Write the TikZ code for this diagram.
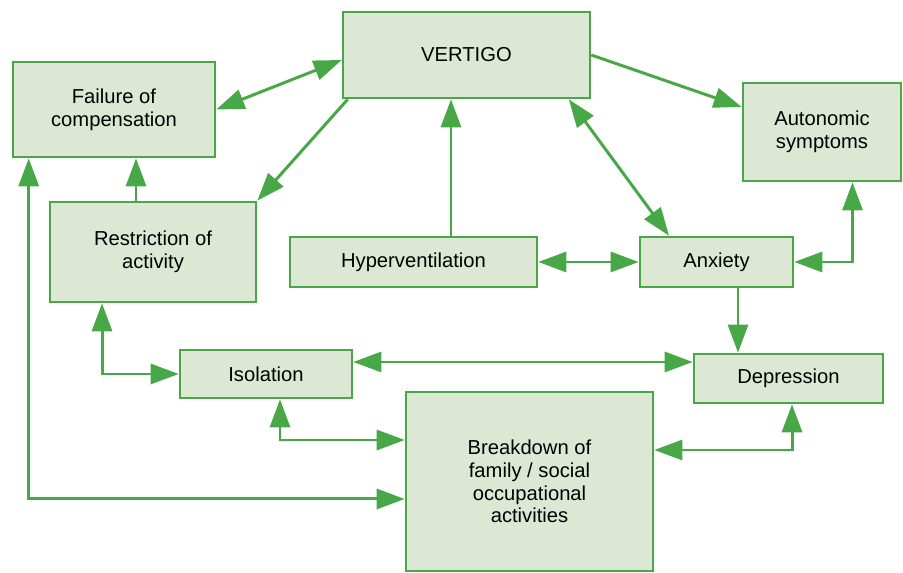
\documentclass[tikz,border=0pt]{standalone}
\usepackage{fontspec}
\setmainfont{Liberation Sans}
\usepackage{tikz}
\usetikzlibrary{positioning}
\usetikzlibrary{arrows.meta}
\definecolor{vgreen}{RGB}{72,168,72}
\definecolor{vfill}{RGB}{220,232,212}
\tikzset{
  box/.style={draw=vgreen, fill=vfill, line width=1.5pt, align=center, inner sep=0pt,
    font=\fontsize{11.5}{13}\selectfont},
  link/.style={draw=vgreen, line width=1.7pt, -{Triangle[length=0.56cm, width=0.4cm]}},
  dlink/.style={link, {Triangle[length=0.56cm, width=0.4cm]}-{Triangle[length=0.56cm, width=0.4cm]}}
}

\begin{document}
\begin{tikzpicture}[x=0.02cm, y=-0.02cm]
    \path[use as bounding box] (0,0) rectangle (903,573);

    \node[box, minimum width=4.94cm, minimum height=1.72cm] (Vert) at (466.5,55) {VERTIGO};
    \node[box, minimum width=4.04cm, minimum height=1.90cm] (Fail) at (114,109.5) {Failure of\\compensation};
    \node[box, minimum width=3.16cm, minimum height=1.96cm] (Auto) at (822,132) {Autonomic\\symptoms};
    \node[box, minimum width=4.12cm, minimum height=2.00cm] (Restr) at (153,252) {Restriction of\\activity};
    \node[box, minimum width=4.94cm, minimum height=1.00cm] (Hyper) at (413.5,262) {Hyperventilation};
    \node[box, minimum width=3.06cm, minimum height=1.00cm] (Anx) at (716.5,262) {Anxiety};
    \node[box, minimum width=3.44cm, minimum height=0.96cm] (Isol) at (266,374) {Isolation};
    \node[box, minimum width=3.78cm, minimum height=0.98cm] (Depr) at (788.5,378.5) {Depression};
    \node[box, minimum width=4.94cm, minimum height=3.58cm] (Break) at (529.5,481.5) {Breakdown of\\family / social\\occupational\\activities};

    % links from vertigo
    \path [dlink] (Fail.east) -- ([yshift=-0.1cm]Vert.west);
    \path [link] ([xshift=0.12cm]Vert.south west) -- (Restr.north east);
    \path [dlink] ([xshift=-0.45cm]Vert.south east) -- ([xshift=-0.95cm]Anx.north);
    \path [link] (Vert.east) -- ([yshift=0.5cm]Auto.west);
    \path [link] ([xshift=-0.34cm]Restr.north) coordinate (r1) -- (r1 |- Fail.south);
    \path [link] ([xshift=0.75cm]Hyper.north) coordinate (h1) -- (h1 |- Vert.south);

    % middle row
    \path [dlink] (Hyper.east) -- (Anx.west);
    \path [dlink] (Anx.east) -| ([xshift=0.61cm]Auto.south);
    \path [link] ([xshift=0.43cm]Anx.south) coordinate (a1) -- (a1 |- Depr.north);

    % lower part
    \path [dlink] ([yshift=0.24cm]Isol.east) coordinate (i1) -- (i1 -| Depr.west);
    \path [dlink] ([xshift=-1.02cm]Restr.south) |- (Isol.west);
    \path [dlink] ([xshift=0.28cm]Isol.south) |- ([yshift=0.83cm]Break.west);
    \path [dlink] ([xshift=0.34cm]Fail.south west) |- ([yshift=-0.35cm]Break.west);
    \path [dlink] ([xshift=0.07cm]Depr.south) |- ([yshift=0.63cm]Break.east);
\end{tikzpicture}
\end{document}
